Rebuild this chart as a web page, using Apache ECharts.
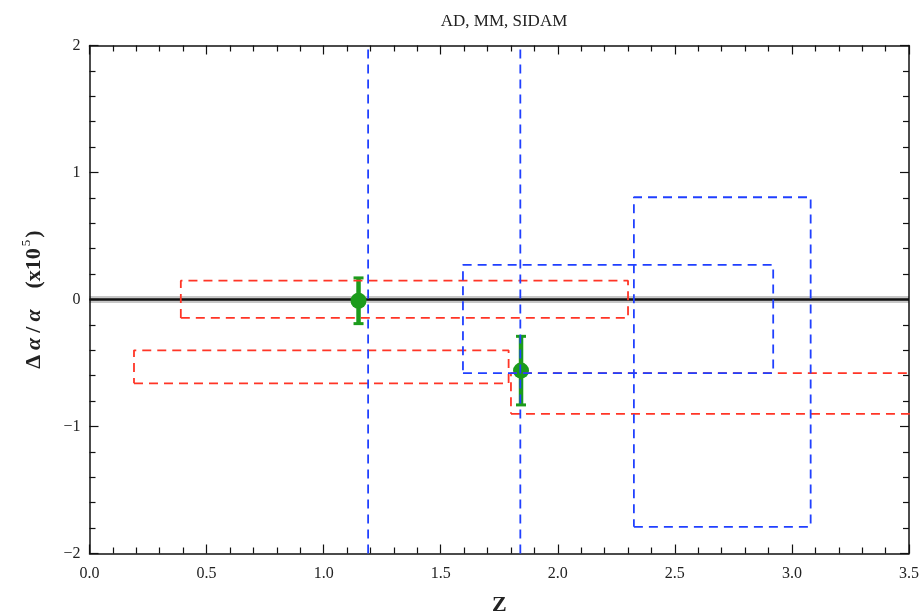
<!DOCTYPE html>
<html>
<head>
<meta charset="utf-8">
<script src="https://cdn.jsdelivr.net/npm/echarts@6/dist/echarts.min.js"></script>
<style>html,body{margin:0;padding:0;background:#fff;}#c{width:923px;height:616px;}</style>
</head>
<body>
<div id="c"></div>
<script>
// ---- data ----
const xTicks = [0.0, 0.5, 1.0, 1.5, 2.0, 2.5, 3.0, 3.5];
const yTicks = [-2, -1, 0, 1, 2];
// red dashed boxes: [xMin, xMax, yMin, yMax]
const redBoxes = [
  [0.39, 2.30, -0.145, 0.148],
  [0.19, 1.79, -0.66, -0.40],
  [1.80, 4.00, -0.90, -0.58]
];
// blue dashed boxes: [xMin, xMax, yMin, yMax]
const blueBoxes = [
  [1.595, 2.92, -0.58, 0.272],
  [2.325, 3.08, -1.79, 0.805]
];
// blue vertical dashed lines (x positions)
const blueLinesX = [1.19, 1.84];
// green points: [z, value, error]
const points = [
  [1.149, -0.01, 0.18],
  [1.843, -0.56, 0.27]
];
const zeroLine = [[0, 0], [3.5, 0]];

// ---- chart ----
const serif = 'Liberation Serif';
const red = '#ff3526';
const blue = '#2040ff';
const green = '#1c9c1c';

function boxPath(b) {
  return [[b[0], b[2]], [b[1], b[2]], [b[1], b[3]], [b[0], b[3]], [b[0], b[2]]];
}

const series = [];
series.push({
  type: 'line', data: zeroLine, symbol: 'none', silent: true, z: 1,
  lineStyle: {color: 'rgba(0,0,0,0.22)', width: 7}
});
series.push({
  type: 'line', data: zeroLine, symbol: 'none', silent: true, z: 2,
  lineStyle: {color: '#111', width: 2.5}
});
series.push({
  type: 'custom', z: 3, silent: true,
  data: points,
  renderItem: function (params, api) {
    const x = api.value(0), y = api.value(1), e = api.value(2);
    const top = api.coord([x, y + e]);
    const bot = api.coord([x, y - e]);
    const c = api.coord([x, y]);
    const st = {stroke: green, lineWidth: 4.5};
    return {
      type: 'group',
      children: [
        {type: 'line', shape: {x1: top[0], y1: top[1], x2: bot[0], y2: bot[1]}, style: st},
        {type: 'line', shape: {x1: top[0] - 5, y1: top[1], x2: top[0] + 5, y2: top[1]}, style: {stroke: green, lineWidth: 3}},
        {type: 'line', shape: {x1: bot[0] - 5, y1: bot[1], x2: bot[0] + 5, y2: bot[1]}, style: {stroke: green, lineWidth: 3}},
        {type: 'circle', shape: {cx: c[0], cy: c[1], r: 8}, style: {fill: green}}
      ]
    };
  }
});
redBoxes.forEach(function (b) {
  series.push({
    type: 'line', data: boxPath(b), symbol: 'none', silent: true, z: 4, clip: true,
    lineStyle: {color: red, width: 1.8, type: [9, 6]}
  });
});
blueBoxes.forEach(function (b) {
  series.push({
    type: 'line', data: boxPath(b), symbol: 'none', silent: true, z: 5, clip: true,
    lineStyle: {color: blue, width: 1.8, type: [9, 6]}
  });
});
blueLinesX.forEach(function (x) {
  series.push({
    type: 'line', data: [[x, -2], [x, 2]], symbol: 'none', silent: true, z: 5, clip: true,
    lineStyle: {color: blue, width: 1.8, type: [9, 6]}
  });
});

function xAxisCfg(pos, showLabels) {
  return {
    type: 'value', position: pos, min: 0, max: 3.5, interval: 0.5,
    axisLine: {show: true, onZero: false, lineStyle: {color: '#111', width: 1.5}},
    axisTick: {show: true, inside: true, length: 9, lineStyle: {color: '#111', width: 1.2}},
    minorTick: {show: true, splitNumber: 5, length: 6, lineStyle: {color: '#111', width: 1.2}},
    splitLine: {show: false},
    axisLabel: {
      show: showLabels, fontFamily: serif, fontSize: 16, color: '#222', margin: 12,
      formatter: function (v) { return xTicks.indexOf(v) >= 0 ? v.toFixed(1) : ''; }
    },
    name: showLabels ? 'Z' : '', nameLocation: 'middle', nameGap: 41,
    nameTextStyle: {fontFamily: serif, fontSize: 22, fontWeight: 'bold', color: '#222'}
  };
}
function yAxisCfg(pos, showLabels) {
  const base = {fontFamily: serif, fontSize: 22, fontWeight: 'bold', color: '#222', lineHeight: 28, verticalAlign: 'bottom'};
  return {
    type: 'value', position: pos, min: -2, max: 2, interval: 1,
    axisLine: {show: true, onZero: false, lineStyle: {color: '#111', width: 1.5}},
    axisTick: {show: true, inside: true, length: 9, lineStyle: {color: '#111', width: 1.2}},
    minorTick: {show: true, splitNumber: 5, length: 6, lineStyle: {color: '#111', width: 1.2}},
    splitLine: {show: false},
    axisLabel: {
      show: showLabels, fontFamily: serif, fontSize: 16, color: '#222', margin: 9,
      formatter: function (v) { return yTicks.indexOf(v) >= 0 ? String(v).replace('-', '\u2212') : ''; }
    },
    name: showLabels ? '{a|\u0394}{i|\u03b1}{a|/}{i|\u03b1}{g| }{a|(x10}{s|5}{a|)}' : '',
    nameLocation: 'middle', nameGap: 44,
    nameTextStyle: {
      rich: {
        a: Object.assign({}, base, {padding: [0, 2]}),
        i: Object.assign({}, base, {fontStyle: 'italic', padding: [0, 3]}),
        g: Object.assign({}, base, {width: 16}),
        s: {fontFamily: serif, fontSize: 13, color: '#222', lineHeight: 14, verticalAlign: 'bottom', padding: [0, 0, 12, 0]}
      }
    }
  };
}

const chart = echarts.init(document.getElementById('c'), null, {renderer: 'canvas'});
chart.setOption({
  animation: false,
  backgroundColor: '#fff',
  title: {
    text: 'AD, MM, SIDAM', left: 499, top: 8, textAlign: 'center',
    textStyle: {fontFamily: serif, fontSize: 17, fontWeight: 'normal', color: '#222'}
  },
  grid: {left: 89.5, right: 14, top: 45.5, bottom: 62.5, containLabel: false, outerBoundsMode: 'none'},
  xAxis: [xAxisCfg('bottom', true), xAxisCfg('top', false)],
  yAxis: [yAxisCfg('left', true), yAxisCfg('right', false)],
  series: series
});
</script>
</body>
</html>
